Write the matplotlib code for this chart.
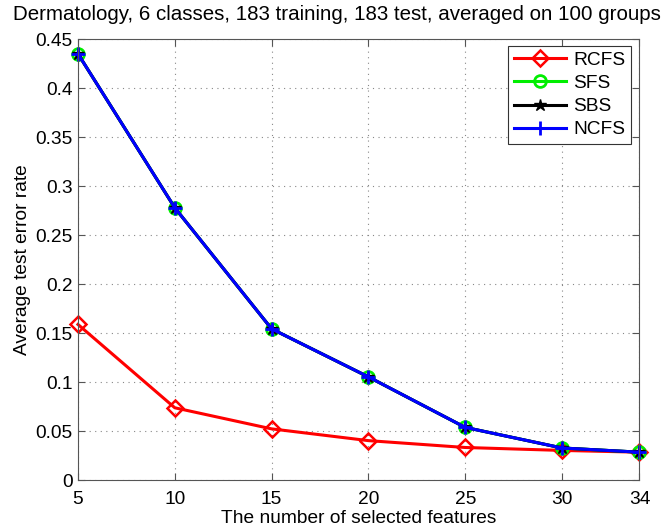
import matplotlib
matplotlib.use("Agg")
import matplotlib.pyplot as plt

# data
n_features = [5, 10, 15, 20, 25, 30, 34]
rcfs = [0.159, 0.074, 0.0525, 0.0405, 0.0335, 0.0305, 0.0287]
sfs = [0.435, 0.278, 0.1545, 0.1055, 0.054, 0.033, 0.0287]
sbs = [0.435, 0.278, 0.1545, 0.1055, 0.054, 0.033, 0.0287]
ncfs = [0.435, 0.278, 0.1545, 0.1055, 0.054, 0.033, 0.0287]

plt.rcParams['font.family'] = ['Liberation Sans', 'DejaVu Sans']
plt.rcParams['font.size'] = 13.8

fig = plt.figure(figsize=(6.7, 5.29), dpi=100)
ax = fig.add_axes([0.1164, 0.092, 0.838, 0.834])

ax.plot(n_features, rcfs, color='red', lw=2.2, marker='D', ms=8,
        mfc='none', mec='red', mew=1.8, label='RCFS', clip_on=False)
ax.plot(n_features, sfs, color='#00ee00', lw=2.2, marker='o', ms=8.5,
        mfc='none', mec='#00ee00', mew=2, label='SFS', clip_on=False)
ax.plot(n_features, sbs, color='black', lw=2.2, marker='*', ms=9,
        mfc='black', mec='black', label='SBS', clip_on=False)
ax.plot(n_features, ncfs, color='blue', lw=2.2, marker='+', ms=10,
        mew=2, label='NCFS', clip_on=False)

ax.set_xlim(5, 34)
ax.set_ylim(0, 0.45)
ax.set_xticks(n_features)
ax.set_xticklabels([str(v) for v in n_features])
ax.set_yticks([0, 0.05, 0.1, 0.15, 0.2, 0.25, 0.3, 0.35, 0.4, 0.45])
ax.set_yticklabels(['0', '0.05', '0.1', '0.15', '0.2', '0.25', '0.3', '0.35', '0.4', '0.45'])
ax.tick_params(direction='in', top=True, right=True, length=5, color='#555555')
ax.tick_params(axis='x', pad=8)
ax.tick_params(axis='y', pad=4)
for s in ax.spines.values():
    s.set_color('#555555')
ax.grid(True, linestyle=(0, (1, 4)), color='#888888', lw=0.8)

ax.set_xlabel('The number of selected features', labelpad=1)
ax.set_ylabel('Average test error rate', labelpad=3)
fig.text(0.503, 1 - 15 / 529,
         'Dermatology, 6 classes, 183 training, 183 test, averaged on 100 groups',
         fontsize=14.8, ha='center', va='center')

leg = ax.legend(loc='upper right', bbox_to_anchor=(0.996, 0.998), fancybox=False,
                edgecolor='#333333', framealpha=1, handlelength=2.7,
                borderaxespad=0.3, labelspacing=0.3, handletextpad=0.4,
                borderpad=0.3)
leg.get_frame().set_linewidth(0.8)

fig.savefig('out.png', dpi=100)
